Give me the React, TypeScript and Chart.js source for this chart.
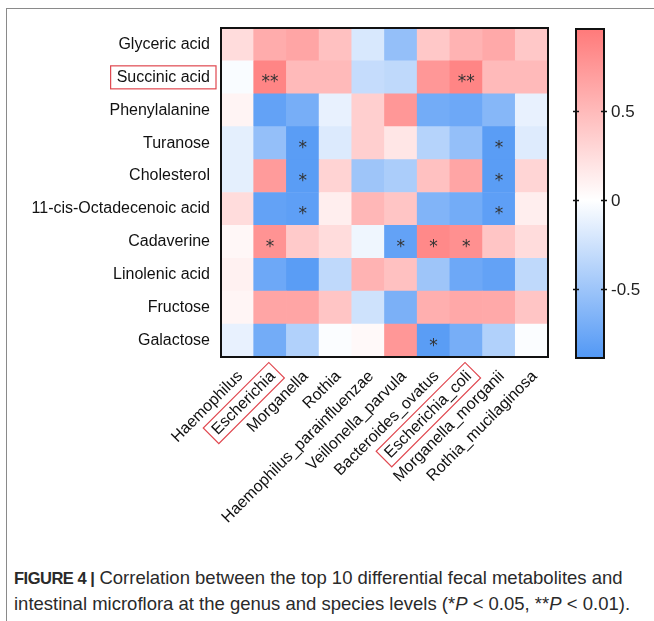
import React, { useEffect, useRef } from 'react';
import { Chart, registerables } from 'chart.js';

Chart.register(...registerables);

// ---------- data ----------
const metabolites = [
  'Glyceric acid',
  'Succinic acid',
  'Phenylalanine',
  'Turanose',
  'Cholesterol',
  '11-cis-Octadecenoic acid',
  'Cadaverine',
  'Linolenic acid',
  'Fructose',
  'Galactose',
];

const microbes = [
  'Haemophilus',
  'Escherichia',
  'Morganella',
  'Rothia',
  'Haemophilus_parainfluenzae',
  'Veillonella_parvula',
  'Bacteroides_ovatus',
  'Escherichia_coli',
  'Morganella_morganii',
  'Rothia_mucilaginosa',
];

// correlation coefficients, one list per metabolite (columns follow `microbes`)
const glycericAcid = [0.25, 0.6, 0.65, 0.45, -0.2, -0.55, 0.4, 0.55, 0.62, 0.4];
const succinicAcid = [-0.03, 0.88, 0.5, 0.5, -0.3, -0.33, 0.75, 0.88, 0.5, 0.5];
const phenylalanine = [0.08, -0.8, -0.7, -0.12, 0.35, 0.75, -0.72, -0.75, -0.62, -0.12];
const turanose = [-0.14, -0.55, -0.85, -0.18, 0.35, 0.18, -0.38, -0.55, -0.85, -0.17];
const cholesterol = [-0.14, 0.72, -0.85, 0.32, -0.5, -0.43, 0.45, 0.65, -0.85, 0.3];
const octadecenoicAcid = [0.25, -0.8, -0.83, 0.12, 0.52, 0.42, -0.65, -0.72, -0.83, 0.12];
const cadaverine = [0.06, 0.78, 0.38, 0.25, -0.08, -0.8, 0.85, 0.8, 0.42, 0.25];
const linolenicAcid = [0.1, -0.75, -0.85, -0.33, 0.55, 0.45, -0.5, -0.75, -0.8, -0.33];
const fructose = [0.07, 0.65, 0.65, 0.42, -0.25, -0.68, 0.58, 0.63, 0.62, 0.42];
const galactose = [-0.12, -0.72, -0.4, -0.02, 0.04, 0.75, -0.85, -0.7, -0.4, -0.02];

const correlationRows = [
  glycericAcid,
  succinicAcid,
  phenylalanine,
  turanose,
  cholesterol,
  octadecenoicAcid,
  cadaverine,
  linolenicAcid,
  fructose,
  galactose,
];

// [metabolite, microbe, mark]
const significantCells: [string, string, string][] = [
  ['Succinic acid', 'Escherichia', '**'],
  ['Succinic acid', 'Escherichia_coli', '**'],
  ['Turanose', 'Morganella', '*'],
  ['Turanose', 'Morganella_morganii', '*'],
  ['Cholesterol', 'Morganella', '*'],
  ['Cholesterol', 'Morganella_morganii', '*'],
  ['11-cis-Octadecenoic acid', 'Morganella', '*'],
  ['11-cis-Octadecenoic acid', 'Morganella_morganii', '*'],
  ['Cadaverine', 'Escherichia', '*'],
  ['Cadaverine', 'Veillonella_parvula', '*'],
  ['Cadaverine', 'Bacteroides_ovatus', '*'],
  ['Cadaverine', 'Escherichia_coli', '*'],
  ['Galactose', 'Bacteroides_ovatus', '*'],
];

const highlightedRowLabels = ['Succinic acid'];
const highlightedColLabels = ['Escherichia', 'Escherichia_coli'];

const colorbarTicks = [0.5, 0, -0.5];
const colorMax = 0.96;
const colorMin = -0.89;

// ---------- styling ----------
const RED = [255, 122, 122];
const BLUE = [82, 152, 245];
const FONT = '"Liberation Sans", Arial, Helvetica, sans-serif';

function mix(c: number[], t: number) {
  const r = Math.round(255 + (c[0] - 255) * t);
  const g = Math.round(255 + (c[1] - 255) * t);
  const b = Math.round(255 + (c[2] - 255) * t);
  return `rgb(${r},${g},${b})`;
}

function colorFor(v: number) {
  if (v >= 0) return mix(RED, Math.min(v / colorMax, 1));
  return mix(BLUE, Math.min(v / colorMin, 1));
}

const CANVAS_W = 654;
const CANVAS_H = 545;
const PLOT_LEFT = 221;
const PLOT_TOP = 28;
const PLOT_RIGHT = 548;
const PLOT_BOTTOM = 357;

const extrasPlugin = {
  id: 'heatExtras',
  afterDraw(chart: any) {
    const { ctx, chartArea: a, scales } = chart;
    const xs = scales.x;
    const ys = scales.y;
    const n = metabolites.length;
    ctx.save();

    // significance marks
    ctx.fillStyle = '#333';
    ctx.font = `17px "DejaVu Sans", sans-serif`;
    ctx.textAlign = 'center';
    ctx.textBaseline = 'alphabetic';
    significantCells.forEach(([m, b, mark]) => {
      const ci = microbes.indexOf(b);
      const ri = metabolites.indexOf(m);
      const cx = xs.getPixelForValue(ci);
      const cy = ys.getPixelForValue(n - ri - 0.5);
      ctx.fillText(mark, cx, cy + 10);
    });

    // plot border
    ctx.strokeStyle = '#111';
    ctx.lineWidth = 2;
    ctx.strokeRect(a.left, a.top, a.right - a.left, a.bottom - a.top);

    // red highlight boxes around labels
    const boxLabel = (scale: any, name: string, padX: number, boxH: number) => {
      const items = scale.getLabelItems();
      const item = items.find((it: any) => it.label === name);
      if (!item) return;
      const o = item.options;
      ctx.save();
      ctx.font = item.font.string;
      const w = ctx.measureText(name).width;
      ctx.translate(o.translation[0], o.translation[1]);
      ctx.rotate(o.rotation);
      let x0 = -w;
      if (o.textAlign === 'left') x0 = 0;
      else if (o.textAlign === 'center') x0 = -w / 2;
      const yc = item.textOffset;
      ctx.strokeStyle = '#e0474f';
      ctx.lineWidth = 1.2;
      ctx.strokeRect(x0 - padX, yc - boxH / 2, w + padX * 2, boxH);
      ctx.restore();
    };
    highlightedRowLabels.forEach((l) => boxLabel(ys, l, 6, 23));
    highlightedColLabels.forEach((l) => boxLabel(xs, l, 5, 22));

    // colorbar
    const cbL = a.right + 28;
    const cbR = a.right + 56;
    const cbT = a.top + 1;
    const cbB = a.bottom + 1;
    const toY = (v: number) => cbT + ((colorMax - v) / (colorMax - colorMin)) * (cbB - cbT);
    const grad = ctx.createLinearGradient(0, cbT, 0, cbB);
    grad.addColorStop(0, mix(RED, 1));
    grad.addColorStop((colorMax - 0) / (colorMax - colorMin), 'rgb(255,255,255)');
    grad.addColorStop(1, mix(BLUE, 1));
    ctx.fillStyle = grad;
    ctx.fillRect(cbL, cbT, cbR - cbL, cbB - cbT);
    ctx.strokeStyle = '#111';
    ctx.lineWidth = 2;
    ctx.strokeRect(cbL, cbT, cbR - cbL, cbB - cbT);
    ctx.fillStyle = '#222';
    ctx.font = `17px ${FONT}`;
    ctx.textAlign = 'left';
    ctx.textBaseline = 'middle';
    colorbarTicks.forEach((t) => {
      const yy = Math.round(toY(t)) + 0.5;
      ctx.beginPath();
      ctx.lineWidth = 1.5;
      ctx.moveTo(cbL - 3, yy);
      ctx.lineTo(cbL + 3, yy);
      ctx.moveTo(cbR - 3, yy);
      ctx.lineTo(cbR + 3, yy);
      ctx.stroke();
      ctx.fillText(String(t), cbR + 7, yy + 1);
    });

    ctx.restore();
  },
};

export default function App() {
  const canvasRef = useRef<HTMLCanvasElement | null>(null);

  useEffect(() => {
    document.body.style.margin = '0';
    const canvas = canvasRef.current;
    if (!canvas) return;
    const n = metabolites.length;
    const bottomUp = metabolites.map((_, i) => n - 1 - i);
    const datasets = bottomUp.map((ri) => ({
      label: metabolites[ri],
      data: correlationRows[ri].map(() => 1),
      backgroundColor: correlationRows[ri].map(colorFor),
      borderWidth: 0,
      barPercentage: 1,
      categoryPercentage: 1,
      stack: 'heat',
    }));

    const chart = new Chart(canvas, {
      type: 'bar',
      data: { labels: microbes, datasets },
      options: {
        animation: false,
        responsive: false,
        maintainAspectRatio: false,
        layout: {
          padding: { left: 0, top: PLOT_TOP, right: CANVAS_W - PLOT_RIGHT, bottom: 0 },
        },
        plugins: {
          legend: { display: false },
          tooltip: { enabled: false },
        },
        scales: {
          x: {
            type: 'category',
            stacked: true,
            grid: { display: false, drawTicks: false },
            border: { display: false },
            ticks: {
              color: '#111',
              font: { family: FONT, size: 16 },
              minRotation: 45,
              maxRotation: 45,
              autoSkip: false,
              padding: 10,
              labelOffset: 3,
            },
            afterFit: (s: any) => {
              s.height = CANVAS_H - PLOT_BOTTOM;
            },
          },
          y: {
            type: 'linear',
            stacked: true,
            min: 0,
            max: n,
            grid: { display: false, drawTicks: false },
            border: { display: false },
            afterBuildTicks: (s: any) => {
              s.ticks = metabolites.map((_, i) => ({ value: i + 0.5 }));
            },
            ticks: {
              color: '#111',
              font: { family: FONT, size: 16 },
              autoSkip: false,
              padding: 11,
              callback: (v: any) => metabolites[n - 1 - Math.floor(Number(v))],
            },
            afterFit: (s: any) => {
              s.width = PLOT_LEFT;
            },
          },
        },
      },
      plugins: [extrasPlugin],
    } as any);

    return () => chart.destroy();
  }, []);

  return (
    <div style={{ position: 'relative', width: 654, height: 621, overflow: 'hidden', background: '#fff' }}>
      <div
        style={{
          position: 'absolute',
          left: 6,
          top: 8,
          width: 800,
          height: 800,
          border: '1.5px solid #8a8a8a',
          boxSizing: 'border-box',
        }}
      />
      <canvas
        ref={canvasRef}
        width={CANVAS_W}
        height={CANVAS_H}
        style={{ position: 'absolute', left: 0, top: 0, width: CANVAS_W, height: CANVAS_H }}
      />
      <div
        style={{
          position: 'absolute',
          left: 14,
          top: 565,
          width: 640,
          fontFamily: FONT,
          fontSize: 18.5,
          lineHeight: '25px',
          color: '#2a2a2a',
          whiteSpace: 'nowrap',
        }}
      >
        <b style={{ fontSize: 16.5, letterSpacing: -0.5 }}>FIGURE 4 |</b> Correlation between the top 10 differential fecal metabolites and
        <br />
        intestinal microflora at the genus and species levels (*<i>P</i> &lt; 0.05, **<i>P</i> &lt; 0.01).
      </div>
    </div>
  );
}
